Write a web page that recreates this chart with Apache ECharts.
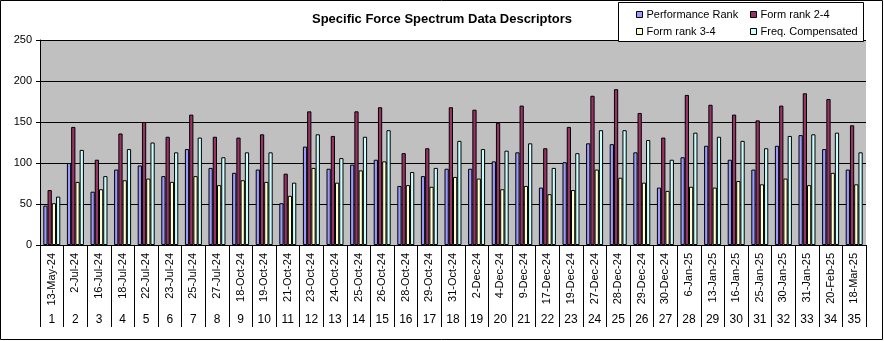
<!DOCTYPE html>
<html>
<head>
<meta charset="utf-8">
<title>Specific Force Spectrum Data Descriptors</title>
<script src="https://cdn.jsdelivr.net/npm/echarts@6/dist/echarts.min.js"></script>
<style>
  html, body { margin: 0; padding: 0; background: #fff; }
  #chart { width: 884px; height: 341px; }
</style>
</head>
<body>
<div id="chart"></div>
<script>
// Session dates (first category row) and running session numbers (second row)
const sessionDates = [
  '13-May-24', '2-Jul-24', '16-Jul-24', '18-Jul-24', '22-Jul-24', '23-Jul-24', '25-Jul-24',
  '27-Jul-24', '18-Oct-24', '19-Oct-24', '21-Oct-24', '23-Oct-24', '24-Oct-24', '25-Oct-24',
  '26-Oct-24', '28-Oct-24', '29-Oct-24', '31-Oct-24', '2-Dec-24', '4-Dec-24', '9-Dec-24',
  '17-Dec-24', '19-Dec-24', '27-Dec-24', '28-Dec-24', '29-Dec-24', '30-Dec-24', '6-Jan-25',
  '13-Jan-25', '16-Jan-25', '25-Jan-25', '30-Jan-25', '31-Jan-25', '20-Feb-25', '18-Mar-25'
];
const sessionNumbers = sessionDates.map((d, i) => String(i + 1));

// Descriptor values per session
const performanceRank = [
  48, 100, 65, 92, 97, 84, 117, 94, 88, 92, 51, 120, 93, 98, 104, 72, 84, 93,
  93, 102, 113, 70, 101, 124, 123, 113, 70, 107, 121, 104, 92, 121, 134, 117, 92
];
const formRank24 = [
  67, 144, 104, 136, 150, 132, 159, 132, 131, 135, 87, 163, 133, 163, 168, 112, 118, 168,
  165, 149, 170, 118, 144, 182, 190, 161, 131, 183, 171, 159, 152, 170, 185, 178, 146
];
const formRank34 = [
  51, 77, 68, 79, 81, 77, 84, 73, 79, 77, 60, 94, 76, 91, 102, 73, 71, 83,
  81, 68, 72, 62, 67, 92, 82, 76, 66, 71, 70, 78, 74, 81, 73, 88, 74
];
const freqCompensated = [
  59, 116, 84, 117, 125, 113, 131, 107, 113, 113, 76, 135, 106, 132, 140, 89, 94, 127,
  117, 115, 124, 94, 112, 140, 140, 128, 104, 137, 132, 127, 118, 133, 135, 137, 113
];

// Value axis ticks
const yMin = 0, yMax = 250, yStep = 50;

const FONT = "'Liberation Sans', Arial, sans-serif";

const seriesDefs = [
  { name: 'Performance Rank', data: performanceRank, color: '#9999FF' },
  { name: 'Form rank 2-4', data: formRank24, color: '#993366' },
  { name: 'Form rank 3-4', data: formRank34, color: '#FFFFCC' },
  { name: 'Freq. Compensated', data: freqCompensated, color: '#CCFFFF' }
];

const legendCommon = {
  orient: 'vertical',
  icon: 'rect',
  itemWidth: 6,
  itemHeight: 6,
  itemGap: 4,
  top: 8,
  z: 20,
  selectedMode: false,
  padding: 0,
  textStyle: { fontFamily: FONT, fontSize: 11, color: '#000', lineHeight: 13, padding: [0, 0, 0, -1] },
  itemStyle: { borderColor: '#000', borderWidth: 1 }
};

const chart = echarts.init(document.getElementById('chart'), null, { renderer: 'canvas' });

chart.setOption({
  animation: false,
  backgroundColor: '#fff',
  title: {
    text: 'Specific Force Spectrum Data Descriptors',
    left: 'center',
    top: 13,
    padding: 0,
    textStyle: { fontFamily: FONT, fontSize: 13, fontWeight: 'bold', color: '#000' }
  },
  legend: [
    Object.assign({}, legendCommon, { left: 636, data: ['Performance Rank', 'Form rank 3-4'] }),
    Object.assign({}, legendCommon, { left: 750, data: ['Form rank 2-4', 'Freq. Compensated'] })
  ],
  graphic: [
    {
      type: 'rect', z: 10, silent: true,
      shape: { x: 618.5, y: 2.5, width: 245, height: 39 },
      style: { fill: '#fff', stroke: '#000', lineWidth: 1 }
    },
    {
      type: 'rect', z: 30, silent: true,
      shape: { x: 0.5, y: 0.5, width: 882, height: 339 },
      style: { fill: 'none', stroke: '#000', lineWidth: 1 }
    }
  ],
  grid: {
    left: 40, right: 18, top: 40, bottom: 96,
    show: true, backgroundColor: '#C0C0C0', borderWidth: 0
  },
  xAxis: [
    {
      type: 'category',
      data: sessionDates,
      position: 'bottom',
      boundaryGap: true,
      axisLine: { show: true, lineStyle: { color: '#000', width: 1 } },
      axisTick: { show: true, interval: 0, length: 82, lineStyle: { color: '#000', width: 1 } },
      axisLabel: { interval: 0, rotate: 90, margin: 8, fontFamily: FONT, fontSize: 11, color: '#000' },
      splitLine: { show: false }
    },
    {
      type: 'category',
      data: sessionNumbers,
      position: 'bottom',
      boundaryGap: true,
      axisLine: { show: false },
      axisTick: { show: false },
      axisLabel: { interval: 0, margin: 69, fontFamily: FONT, fontSize: 12, color: '#000' },
      splitLine: { show: false }
    }
  ],
  yAxis: {
    type: 'value',
    min: yMin, max: yMax, interval: yStep,
    axisLine: { show: true, lineStyle: { color: '#000', width: 1 } },
    axisTick: { show: true, length: 4, lineStyle: { color: '#000' } },
    axisLabel: { margin: 8, fontFamily: FONT, fontSize: 11, color: '#000' },
    splitLine: { show: true, lineStyle: { color: '#000', width: 1 } }
  },
  series: seriesDefs.map(s => ({
    name: s.name,
    type: 'bar',
    xAxisIndex: 0,
    data: s.data,
    barGap: '0%',
    barCategoryGap: '28%',
    itemStyle: { color: s.color, borderColor: '#000', borderWidth: 1 },
    emphasis: { disabled: true }
  }))
});
</script>
</body>
</html>
